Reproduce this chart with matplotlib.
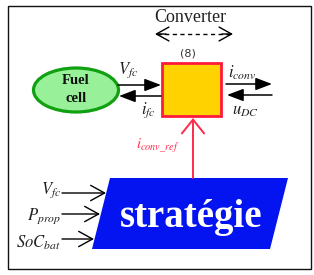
import matplotlib
matplotlib.use('Agg')
import matplotlib.pyplot as plt
from matplotlib.patches import Rectangle, Ellipse, Polygon

plt.rcParams['mathtext.fontset'] = 'stix'
SERIF = 'Liberation Serif'

# ── DIAGRAM TEXT ────────────────────────────────────────────────────────────
title_label  = 'Converter'
block_ref    = '(8)'
source_lines = ['Fuel', 'cell']
fc_labels    = [r'$V_{fc}$', r'$i_{fc}$']
dc_labels    = [r'$i_{conv}$', r'$u_{DC}$']
ref_label    = r'$i_{conv\_ref}$'
strat_label  = 'stratégie'
input_labels = [r'$V_{fc}$', r'$P_{prop}$', r'$SoC_{bat}$']

fig = plt.figure(figsize=(3.14, 2.75), dpi=100)
ax = fig.add_axes([0, 0, 1, 1])
ax.set_xlim(0, 314)
ax.set_ylim(275, 0)
ax.axis('off')

# outer frame
ax.add_patch(Rectangle((8, 6), 303, 263, fill=False, ec='#111111', lw=1.0))

def arrow(p0, p1, style, color='black', lw=1.1, ls='-'):
    ax.annotate('', xy=p1, xytext=p0,
                arrowprops=dict(arrowstyle=style, color=color, lw=lw,
                                ls=ls, mutation_scale=1,
                                shrinkA=0, shrinkB=0))

# converter title + dashed double arrow (solid heads)
ax.text(190, 18, title_label, family=SERIF, fontsize=13,
        ha='center', va='center', color='#222222')
ax.plot([157, 231], [34, 34], color='black', lw=1.0, ls=(0, (3, 2.5)))
arrow((166, 34), (155, 34), '->,head_length=9,head_width=5', lw=1.0)
arrow((222, 34), (233, 34), '->,head_length=9,head_width=5', lw=1.0)
ax.text(188, 53, block_ref, fontsize=8, ha='center', va='center',
        color='#333333')

# converter block
ax.add_patch(Rectangle((162, 63), 59, 53, fc='#FFD200', ec='#FF1A3C', lw=2.0))

# fuel cell
ax.add_patch(Ellipse((76, 90), 85, 44, fc='#98F098', ec='#11A011', lw=2.3))
for txt, y in zip(source_lines, [81, 99]):
    ax.text(76, y, txt, family=SERIF, fontweight='bold', fontsize=10.5,
            ha='center', va='center', color='#111111')

filled = '-|>,head_length=10,head_width=3.8'
arrow((118, 85), (161, 85), filled)
arrow((161, 96), (119, 96), filled)
arrow((226, 84), (272, 84), filled)
arrow((272, 95), (227, 95), filled)

ax.text(128, 70, fc_labels[0], fontsize=12, ha='center', va='center', color='#222222')
ax.text(148, 110, fc_labels[1], fontsize=12, ha='center', va='center', color='#222222')
ax.text(228, 73, dc_labels[0], fontsize=12, ha='left', va='center', color='#222222')
ax.text(232, 110, dc_labels[1], fontsize=12, ha='left', va='center', color='#222222')

# reference current
arrow((193, 178), (193, 118), '->,head_length=10,head_width=8',
      color='#FF2A4A', lw=1.4)
ax.text(158, 146, ref_label, fontsize=10.5, ha='center', va='center',
        color='#FF2A4A')

# strategy block
ax.add_patch(Polygon([(110, 178), (288, 178), (270, 249), (92, 249)],
                     closed=True, fc='#0414F0', ec='none'))
ax.text(191, 217, strat_label, family=SERIF, fontweight='bold',
        fontsize=28, ha='center', va='center', color='white')

# inputs of the strategy
open_head = '->,head_length=10,head_width=5.5'
in_y   = [193, 214, 239]
in_end = [106, 100, 94]
lab_y  = [190, 216, 243]
for lab, y, xe, ly in zip(input_labels, in_y, in_end, lab_y):
    arrow((62, y), (xe, y), open_head, lw=1.0)
    ax.text(61, ly, lab, fontsize=12, ha='right', va='center', color='#222222')

fig.savefig('out.png', dpi=100)
